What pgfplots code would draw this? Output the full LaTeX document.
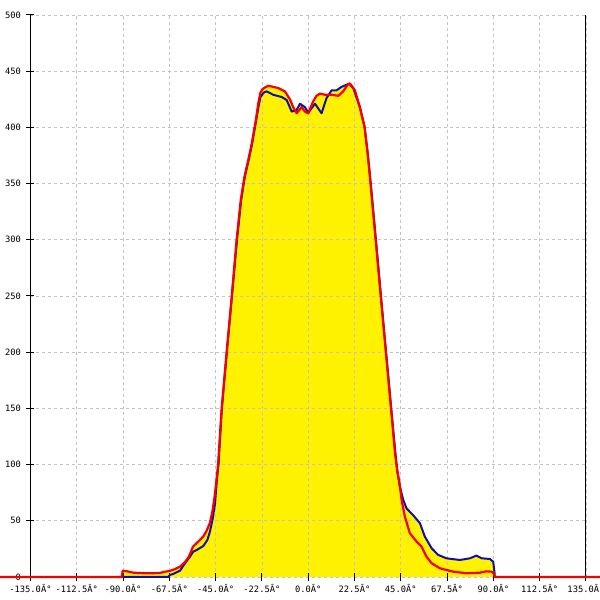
\documentclass[border=0pt]{standalone}
\usepackage{fontspec}
\setmainfont{DejaVu Sans Mono}
\usepackage{pgfplots}
\pgfplotsset{compat=1.18}
\definecolor{myred}{RGB}{245,0,0}
\definecolor{myblue}{RGB}{15,15,175}
\definecolor{gridc}{RGB}{195,195,195}
\pgfplotstableread{
x y
-149.8 0
-90.6 0
-90.2 5.5
-88 5
-85 3.8
-80 3.3
-75 3.3
-72 3.6
-70 4.5
-67.5 5.3
-65 6.8
-62.3 9.2
-60 13
-58 18
-56 27
-54 30.5
-52.6 33
-51 36
-49.4 41
-47.8 48
-46.6 58
-45.6 70
-44.6 86
-43.8 100
-42.1 149
-39.7 199
-37.2 249
-34.8 300
-32.8 335
-31 356
-29 372
-27.5 385
-25.5 406
-24.2 422
-23.2 431
-22.2 434
-21 435.5
-19.4 437
-17 436
-14.6 435
-11.3 432
-8.9 425
-7.3 418
-5.6 412.5
-3.2 418
-1.6 414
0 412.5
2.4 423
4 428
5.7 430
8.1 429
11.4 429
14.6 428
17 432
19.4 438.6
20.3 439
22.7 433
25.1 418
27.4 400.6
28.9 377
30.3 350
32.8 300
35.3 249
37.8 199
40.3 149
42.2 110
43.3 95
44.4 83
45.4 68.5
47 53.6
49.4 38.9
52.7 31.4
55.1 27
57.5 18
60 12.2
64 7.7
70.5 4.7
77 3.3
83.4 3.8
86.7 5
89.1 4.7
90.3 3
90.7 0
141.8 0
}\redtab
\pgfplotstableread{
x y
-90.7 0
-68 0
-67.2 1.8
-65.6 2.7
-62.3 5.6
-60.7 10
-57.5 18
-55.9 22.5
-54.2 24
-51 27.5
-49 33
-47.8 40
-46.5 51
-45.3 65
-44.4 86
-43.6 100
-42 149
-39.6 199
-37.1 249
-34.6 300
-32.6 335
-30.8 356
-28.8 372
-27.3 385
-25.3 406
-24 420
-23.2 427
-21.6 431
-20.2 432
-17 429
-12.9 427
-10.5 424.4
-8 414
-5.6 415.5
-4 421
-1.6 418
0 413
3.3 421
6.5 412.5
8.9 426
11.4 433
13.8 433
16.2 436
18.7 438
19.9 438.6
21.9 435
25.1 418
27.4 400
28.9 377
30.4 350
32.9 300
35.4 249
37.9 199
40.4 149
42.4 110
43.2 95
44.6 80
46.2 68.5
47.8 61
51 55
54.3 47.8
56.7 35.9
60 25.5
63.2 19.6
67.2 16.6
73.7 15.1
78.6 16.6
81.8 19
84.3 16.6
88.3 16
89.9 13.6
90.5 5
90.7 0
}\bluetab
\begin{document}
\begin{tikzpicture}
\begin{axis}[
 set layers,
 scale only axis, width=555.5bp, height=562bp,
 xmin=-135, xmax=135, ymin=0, ymax=500,
 clip=false,
 axis line style={draw=none},
 xtick={-135,-112.5,-90,-67.5,-45,-22.5,0,22.5,45,67.5,90,112.5,135},
 xticklabels={-135.0Â°,-112.5Â°,-90.0Â°,-67.5Â°,-45.0Â°,-22.5Â°,0.0Â°,22.5Â°,45.0Â°,67.5Â°,90.0Â°,112.5Â°,135.0Â°},
 ytick={0,50,100,150,200,250,300,350,400,450,500},
 xtick pos=bottom, ytick pos=left,
 tick align=center, major tick length=8bp,
 tick style={black, line width=1bp},
 grid=major,
 major grid style={gridc, dash pattern=on 3bp off 3bp, line width=0.8bp},
 tick label style={font=\fontsize{8.8}{10}\selectfont},
 yticklabel style={xshift=-2bp},
 /pgf/number format/assume math mode=true,
]
\addplot[fill=yellow, draw=none, on layer=axis background] table[x=x,y=y] {\bluetab} \closedcycle;
\addplot[fill=yellow, draw=none, on layer=axis background] table[x=x,y=y] {\redtab} \closedcycle;
\draw[black, line width=1bp] (rel axis cs:0,0) -- (rel axis cs:0,1);
\draw[black, line width=1bp] (rel axis cs:1,0) -- (rel axis cs:1,1);
\addplot[myblue, line width=2bp, line join=round, mark=none] table[x=x,y=y] {\bluetab};
\addplot[myred, line width=2.2bp, line join=round, mark=none] table[x=x,y=y] {\redtab};
\coordinate (bl) at (axis cs:-149.8,-20.5);
\coordinate (tr) at (axis cs:141.8,513.3);
\end{axis}
\pgfresetboundingbox
\useasboundingbox (bl) rectangle (tr);
\end{tikzpicture}
\end{document}
